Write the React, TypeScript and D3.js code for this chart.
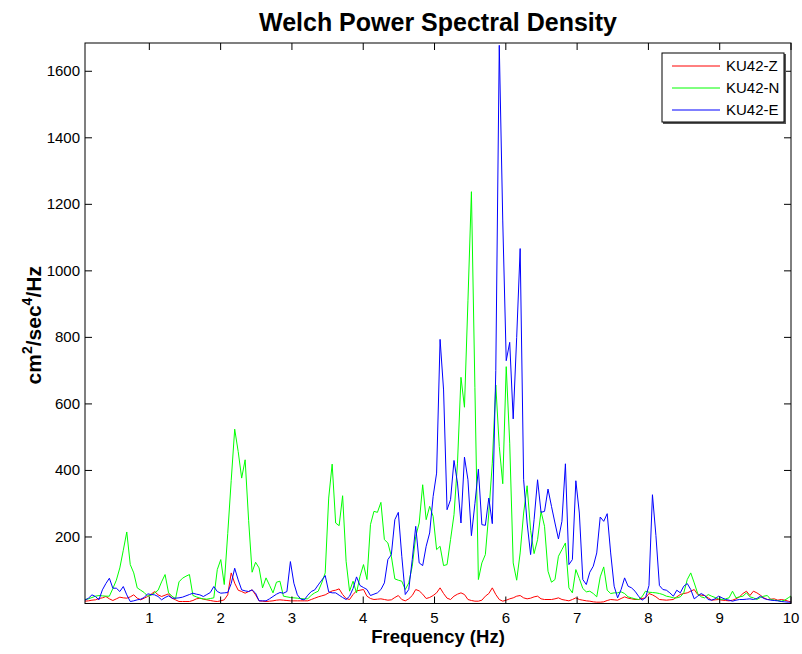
import React from "react";
import * as d3 from "d3";

// Frequency bin spacing (Hz) and first bin index
const DF = 0.048828125;
const K_START = 2;

const redZ = [
  7, 8, 10, 11, 15, 17, 21, 14, 9, 14,
  19, 17, 16, 20, 26, 16, 11, 16, 21, 28,
  36, 26, 21, 25, 29, 16, 11, 6, 6, 6,
  6, 9, 14, 16, 13, 11, 9, 7, 6, 8,
  11, 26, 92, 61, 40, 36, 31, 36, 41, 26,
  8, 7, 6, 7, 8, 10, 11, 10, 9, 8,
  8, 8, 8, 8, 8, 12, 16, 20, 23, 26,
  32, 38, 40, 44, 27, 15, 12, 27, 38, 40,
  42, 22, 15, 12, 13, 14, 12, 10, 11, 18,
  24, 12, 8, 14, 24, 42, 38, 28, 15, 18,
  24, 32, 47, 30, 16, 12, 22, 28, 32, 27,
  12, 9, 7, 7, 10, 22, 30, 47, 27, 12,
  7, 10, 14, 17, 22, 24, 17, 14, 16, 20,
  22, 14, 12, 12, 12, 14, 17, 12, 10, 8,
  12, 17, 12, 10, 8, 7, 5, 4, 4, 5,
  9, 12, 11, 10, 15, 20, 16, 14, 12, 12,
  15, 17, 30, 26, 20, 12, 11, 10, 11, 12,
  20, 27, 30, 32, 37, 42, 27, 25, 24, 17,
  10, 11, 12, 10, 9, 8, 10, 14, 20, 30,
  37, 24, 37, 32, 25, 17, 12, 13, 14, 10,
  12, 10, 7, 4,
];

const greenN = [
  12, 14, 18, 22, 24, 23, 22, 22, 45, 70,
  107, 160, 215, 117, 92, 47, 40, 33, 22, 25,
  32, 40, 65, 87, 32, 22, 14, 65, 76, 82,
  87, 24, 20, 16, 14, 13, 15, 17, 102, 132,
  57, 210, 370, 524, 457, 377, 432, 250, 94, 124,
  107, 47, 77, 55, 32, 64, 67, 22, 20, 18,
  17, 16, 15, 14, 14, 25, 32, 37, 62, 92,
  317, 419, 242, 234, 324, 127, 37, 67, 32, 82,
  117, 72, 237, 277, 274, 304, 192, 182, 142, 74,
  70, 67, 42, 62, 112, 202, 242, 357, 252, 292,
  262, 162, 172, 114, 117, 192, 267, 422, 680, 590,
  910, 1238, 650, 72, 122, 147, 272, 422, 657, 472,
  360, 712, 482, 122, 70, 152, 272, 354, 220, 150,
  192, 277, 232, 97, 64, 72, 142, 162, 182, 47,
  32, 102, 75, 45, 35, 37, 30, 20, 80, 110,
  40, 30, 32, 32, 35, 30, 20, 17, 14, 12,
  20, 37, 34, 33, 32, 30, 27, 22, 20, 17,
  17, 20, 32, 72, 92, 62, 30, 20, 17, 27,
  22, 18, 14, 12, 14, 17, 37, 17, 20, 22,
  32, 20, 17, 12, 18, 22, 24, 12, 10, 9,
  7, 10, 17, 24,
];

const blueE = [
  10, 16, 26, 21, 11, 41, 60, 76, 46, 46,
  36, 51, 26, 6, 8, 11, 13, 18, 29, 27,
  26, 21, 11, 18, 23, 16, 16, 17, 19, 23,
  27, 31, 28, 26, 21, 27, 33, 51, 36, 31,
  32, 33, 60, 106, 71, 41, 38, 36, 41, 31,
  8, 8, 8, 14, 21, 28, 33, 31, 36, 126,
  61, 26, 13, 11, 25, 36, 41, 56, 70, 84,
  35, 32, 32, 25, 18, 12, 22, 45, 80, 54,
  48, 42, 24, 28, 32, 42, 62, 132, 147, 252,
  274, 142, 27, 42, 132, 232, 122, 114, 172, 212,
  322, 392, 794, 642, 282, 312, 430, 362, 242, 440,
  372, 204, 300, 404, 237, 235, 317, 240, 700, 1678,
  1150, 730, 785, 555, 800, 1067, 372, 242, 147, 252,
  372, 274, 277, 344, 292, 242, 194, 247, 420, 117,
  132, 369, 272, 72, 57, 94, 112, 152, 260, 247,
  270, 152, 52, 17, 42, 77, 52, 47, 37, 22,
  10, 17, 54, 327, 204, 54, 42, 40, 32, 22,
  40, 32, 52, 60, 42, 14, 22, 30, 24, 12,
  10, 14, 22, 17, 12, 10, 7, 10, 12, 12,
  13, 14, 12, 15, 22, 15, 12, 10, 9, 8,
  6, 5, 4, 4,
];

const xTicks = [1, 2, 3, 4, 5, 6, 7, 8, 9, 10];
const yTicks = [200, 400, 600, 800, 1000, 1200, 1400, 1600];
const seriesNames = ["KU42-Z", "KU42-N", "KU42-E"];
const seriesColors = ["#ff0000", "#00ff00", "#0000ff"];
const seriesValues = [redZ, greenN, blueE];

const W = 802;
const H = 654;
const left = 85;
const right = 791;
const top = 43;
const bottom = 603.5;
const FONT = "'Liberation Sans', Arial, Helvetica, sans-serif";

export default function App() {
  const x = d3.scaleLinear().domain([2 * DF, 10]).range([left, right]);
  const y = d3.scaleLinear().domain([0, 1685]).range([bottom, top]);

  const freqs = d3.range(K_START, K_START + redZ.length).map((k) => k * DF);

  const line = d3
    .line<number>()
    .x((_, i) => x(freqs[i]))
    .y((d) => y(d));

  const tickLen = 7;

  return (
    <svg
      width={W}
      height={H}
      style={{ position: "absolute", left: 0, top: 0, background: "#fff" }}
      fontFamily={FONT}
    >
      <rect x={0} y={0} width={W} height={H} fill="#fff" />
      <defs>
        <clipPath id="plotClip">
          <rect x={left} y={top} width={right - left} height={bottom - top} />
        </clipPath>
      </defs>

      {/* series */}
      <g clipPath="url(#plotClip)">
        {seriesValues.map((vals, si) => (
          <path
            key={si}
            d={line(vals) || ""}
            fill="none"
            stroke={seriesColors[si]}
            strokeWidth={1}
            strokeLinejoin="round"
          />
        ))}
      </g>

      {/* axes box */}
      <rect
        x={left}
        y={top}
        width={right - left}
        height={bottom - top}
        fill="none"
        stroke="#000"
        strokeWidth={1}
      />

      {/* x ticks */}
      {xTicks.map((t) => (
        <g key={"xt" + t}>
          <line x1={x(t)} x2={x(t)} y1={bottom} y2={bottom - tickLen} stroke="#000" />
          <line x1={x(t)} x2={x(t)} y1={top} y2={top + tickLen} stroke="#000" />
          <text
            x={x(t)}
            y={bottom + 19}
            textAnchor="middle"
            fontSize={15}
            fill="#000"
          >
            {t}
          </text>
        </g>
      ))}

      {/* y ticks */}
      {yTicks.map((t) => (
        <g key={"yt" + t}>
          <line x1={left} x2={left + tickLen} y1={y(t)} y2={y(t)} stroke="#000" />
          <line x1={right} x2={right - tickLen} y1={y(t)} y2={y(t)} stroke="#000" />
          <text
            x={left - 5}
            y={y(t) + 5}
            textAnchor="end"
            fontSize={15}
            fill="#000"
          >
            {t}
          </text>
        </g>
      ))}

      {/* title */}
      <text
        x={(left + right) / 2}
        y={31}
        textAnchor="middle"
        fontSize={25}
        fontWeight="bold"
        fill="#000"
      >
        Welch Power Spectral Density
      </text>

      {/* x label */}
      <text
        x={(left + right) / 2}
        y={643}
        textAnchor="middle"
        fontSize={18.5}
        fontWeight="bold"
        fill="#000"
      >
        Frequency (Hz)
      </text>

      {/* y label */}
      <text
        transform={`translate(41, ${(top + bottom) / 2 + 2}) rotate(-90)`}
        textAnchor="middle"
        fontSize={21}
        fontWeight="bold"
        fill="#000"
      >
        <tspan>cm</tspan>
        <tspan dy={-9} fontSize={14}>2</tspan>
        <tspan dy={9}>/sec</tspan>
        <tspan dy={-9} fontSize={14}>4</tspan>
        <tspan dy={9}>/Hz</tspan>
      </text>

      {/* legend */}
      <g>
        <rect x={663} y={54} width={123} height={70} fill="#555" />
        <rect x={662} y={53} width={122} height={69} fill="#fff" stroke="#000" strokeWidth={1} />
        {seriesNames.map((name, i) => {
          const ly = 66 + i * 22;
          return (
            <g key={name}>
              <line x1={672} x2={720} y1={ly} y2={ly} stroke={seriesColors[i]} strokeWidth={1} />
              <text x={726} y={ly + 5} fontSize={15} fill="#000">
                {name}
              </text>
            </g>
          );
        })}
      </g>
    </svg>
  );
}
